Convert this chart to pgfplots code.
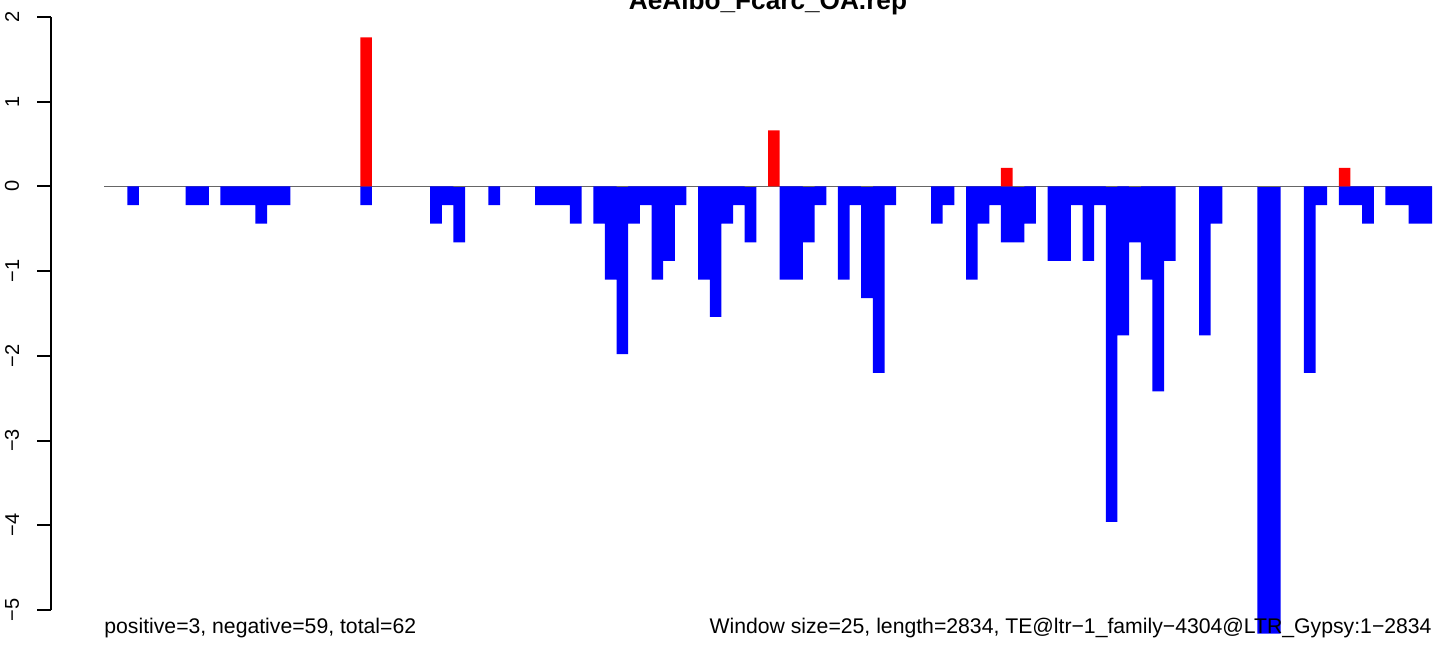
\documentclass[border=0pt]{standalone}
\usepackage{fontspec}
\setmainfont{Liberation Sans}
\usepackage{pgfplots}
\pgfplotsset{compat=1.18}
\definecolor{zline}{RGB}{102,102,102}
\begin{document}
\begin{tikzpicture}
\begin{axis}[
  x=5.8246pt, y=42.357pt,
  xmin=-4.55, xmax=115.03, ymin=-5.4256, ymax=2.1,
  clip=false,
  axis line style={draw=none},
  xtick=\empty,
  ytick={-5,-4,-3,-2,-1,0,1,2},
  yticklabels={−5,−4,−3,−2,−1,0,1,2},
  ytick pos=left,
  tick align=outside,
  major tick length=7pt,
  tick style={black, line width=1pt},
  yticklabel style={rotate=90, anchor=south, inner sep=0pt, font=\fontsize{10}{12}\selectfont},
  yticklabel shift=8.75pt,
]
% zero line
\addplot[zline, line width=0.75pt, no marks] coordinates {(0,0) (114,0)};
% negative windows
\addplot[ybar, bar width=1, bar shift=0pt, fill=blue, draw=none] coordinates {
(2.5,-0.22) (7.5,-0.22) (8.5,-0.22) (10.5,-0.22) (11.5,-0.22) (12.5,-0.22) (13.5,-0.44) (14.5,-0.22) (15.5,-0.22)
(22.5,-0.22) (28.5,-0.44) (29.5,-0.22) (30.5,-0.66) (33.5,-0.22)
(37.5,-0.22) (38.5,-0.22) (39.5,-0.22) (40.5,-0.44) (42.5,-0.44) (43.5,-1.1) (44.5,-1.98) (45.5,-0.44) (46.5,-0.22)
(47.5,-1.1) (48.5,-0.88) (49.5,-0.22) (51.5,-1.1) (52.5,-1.54) (53.5,-0.44) (54.5,-0.22) (55.5,-0.66)
(58.5,-1.1) (59.5,-1.1) (60.5,-0.66) (61.5,-0.22) (63.5,-1.1) (64.5,-0.22) (65.5,-1.32) (66.5,-2.2) (67.5,-0.22)
(71.5,-0.44) (72.5,-0.22) (74.5,-1.1) (75.5,-0.44) (76.5,-0.22) (77.5,-0.66) (78.5,-0.66) (79.5,-0.44)
(81.5,-0.88) (82.5,-0.88) (83.5,-0.22) (84.5,-0.88) (85.5,-0.22) (86.5,-3.96) (87.5,-1.76) (88.5,-0.66)
(89.5,-1.1) (90.5,-2.42) (91.5,-0.88) (94.5,-1.76) (95.5,-0.44) (99.5,-5.28) (100.5,-5.28)
(103.5,-2.2) (104.5,-0.22) (106.5,-0.22) (107.5,-0.22) (108.5,-0.44) (110.5,-0.22) (111.5,-0.22)
(112.5,-0.44) (113.5,-0.44)
};
% positive windows
\addplot[ybar, bar width=1, bar shift=0pt, fill=red, draw=none] coordinates {
(22.5,1.76) (57.5,0.66) (77.5,0.22) (106.5,0.22)
};
% zero-height marks
\addplot[ybar, bar width=1, bar shift=0pt, draw=zline, fill=none, line width=0.6pt] coordinates {
(30.5,0) (44.5,0) (55.5,0) (60.5,0) (65.5,0) (78.5,0) (86.5,0) (88.5,0) (99.5,0) (100.5,0)
};
\draw[black, line width=1pt] (axis cs:-4.55,-5) -- (axis cs:-4.55,2);
\node[anchor=base, inner sep=0pt, font=\bfseries\fontsize{13.1}{15}\selectfont] at (axis cs:57,2.088) {AeAlbo\_Fcarc\_OA.rep};
\node[anchor=base west, inner sep=0pt, font=\fontsize{10.6}{12}\selectfont] at (axis cs:0,-5.272) {positive=3, negative=59, total=62};
\node[anchor=base east, inner sep=0pt, font=\fontsize{10.6}{12}\selectfont] at (axis cs:114,-5.272) {Window size=25, length=2834, TE@ltr−1\_family−4304@LTR\_Gypsy:1−2834};
\coordinate (bbA) at (axis cs:-8.928,2.2005);
\coordinate (bbB) at (axis cs:115.03,-5.4256);
\end{axis}
\pgfresetboundingbox
\useasboundingbox (bbA) rectangle (bbB);
\end{tikzpicture}
\end{document}
